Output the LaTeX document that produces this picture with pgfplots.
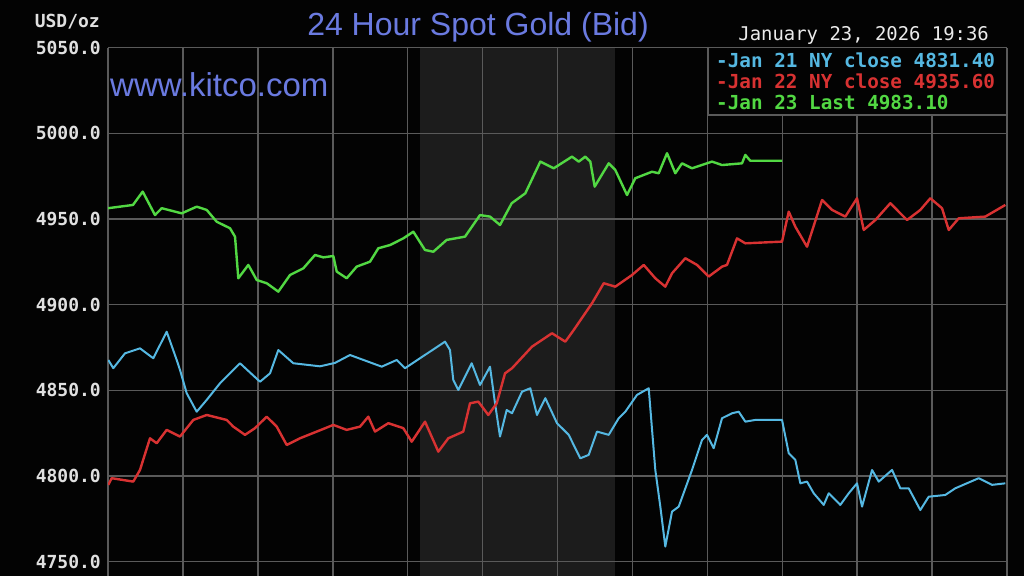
\documentclass[border=0pt]{standalone}
\usepackage{fontspec}
\setmainfont{Liberation Sans}
\newfontfamily\monof{DejaVu Sans Mono}
\usepackage{pgfplots}
\pgfplotsset{compat=1.18}
\definecolor{bgk}{HTML}{030303}
\definecolor{gridc}{HTML}{5A5A5A}
\definecolor{shadec}{HTML}{1C1C1C}
\definecolor{cyanl}{HTML}{55B8E2}
\definecolor{redl}{HTML}{D83232}
\definecolor{greenl}{HTML}{52D843}
\definecolor{titleb}{HTML}{6A7AE0}
\begin{document}
\begin{tikzpicture}
\clip (0pt,0pt) rectangle (1024pt,576pt);
\fill[bgk] (0pt,0pt) rectangle (1024pt,576pt);
\begin{axis}[
  at={(108pt,0pt)}, anchor=south west,
  scale only axis, width=899pt, height=528.3pt,
  xmin=0, xmax=24, ymin=4741.6, ymax=5050,
  xtick={0,2,...,24}, xticklabels={},
  ytick={4750,4800,...,5050},
  major tick length=0pt,
  grid=major,
  major grid style={gridc, line width=1.5pt},
  axis line style={draw=none},
  /pgf/number format/assume math mode=true,
  yticklabel={\pgfmathprintnumber[fixed,fixed zerofill,precision=1,1000 sep={}]{\tick}},
  yticklabel style={font=\monof\bfseries\fontsize{18}{20}\selectfont, text=white!88!black, anchor=east, inner sep=0pt, xshift=-7pt},
  clip=true,
]
\fill[shadec] (axis cs:8.33,4741.6) rectangle (axis cs:13.53,5050);
\draw[gridc, line width=1.5pt] (axis cs:10,4741.6) -- (axis cs:10,5050) (axis cs:12,4741.6) -- (axis cs:12,5050)
  (axis cs:8.33,5000) -- (axis cs:13.53,5000) (axis cs:8.33,4950) -- (axis cs:13.53,4950)
  (axis cs:8.33,4900) -- (axis cs:13.53,4900) (axis cs:8.33,4850) -- (axis cs:13.53,4850)
  (axis cs:8.33,4800) -- (axis cs:13.53,4800) (axis cs:8.33,4750) -- (axis cs:13.53,4750);
% Jan 21 (cyan)
\addplot[cyanl, line width=2pt, line join=round] coordinates {
(0.008,4867.7) (0.141,4862.9) (0.454,4871.6) (0.854,4874.5) (1.209,4868.7) (1.567,4884.2)
(1.834,4867.7) (1.922,4861.9) (2.101,4848.3) (2.368,4837.5) (2.635,4844.4) (2.990,4854.1)
(3.524,4865.8) (4.058,4855.0) (4.325,4859.9) (4.547,4873.5) (4.947,4865.8) (5.66,4864.0)
(6.06,4866.0) (6.461,4870.6) (7.307,4863.8) (7.707,4867.7) (7.929,4862.9) (8.329,4868.7)
(8.997,4878.4) (9.130,4873.5) (9.218,4856.0) (9.352,4850.2) (9.709,4865.8) (9.931,4853.1)
(10.198,4863.8) (10.332,4842.4) (10.465,4823.0) (10.644,4838.5) (10.786,4836.6) (11.053,4849.2)
(11.274,4851.2) (11.453,4835.6) (11.675,4845.4) (11.987,4830.8) (12.299,4824.0) (12.609,4810.3)
(12.833,4812.3) (13.055,4825.9) (13.367,4824.0) (13.634,4833.7) (13.810,4837.5) (14.122,4847.3)
(14.435,4851.2) (14.611,4803.5) (14.745,4782.1) (14.878,4758.8) (15.057,4779.2) (15.236,4782.1)
(15.591,4803.5) (15.858,4821.0) (15.991,4824.0) (16.170,4816.2) (16.392,4833.7) (16.659,4836.6)
(16.838,4837.5) (17.014,4831.7) (17.281,4832.7) (17.994,4832.7) (18.173,4813.3) (18.349,4809.4)
(18.483,4795.7) (18.661,4796.7) (18.840,4789.9) (19.107,4783.1) (19.241,4789.9) (19.550,4783.1)
(19.775,4789.9) (19.996,4795.7) (20.130,4782.1) (20.397,4803.5) (20.576,4796.7) (20.931,4803.5)
(21.152,4792.8) (21.376,4792.8) (21.686,4780.1) (21.910,4787.9) (22.353,4788.9) (22.620,4792.8)
(23.245,4798.7) (23.600,4794.8) (23.955,4795.7)
};
% Jan 22 (red)
\addplot[redl, line width=2.4pt, line join=round] coordinates {
(0.008,4794.8) (0.099,4798.7) (0.675,4796.7) (0.854,4803.5) (1.121,4822.0) (1.300,4819.1)
(1.567,4826.9) (1.922,4823.0) (2.277,4832.7) (2.635,4835.6) (3.169,4832.7) (3.345,4828.8)
(3.657,4824.0) (3.924,4827.9) (4.237,4834.6) (4.504,4828.8) (4.771,4818.1) (5.126,4822.0)
(5.572,4825.9) (6.015,4829.8) (6.372,4826.9) (6.728,4828.8) (6.949,4834.6) (7.128,4825.9)
(7.483,4830.8) (7.884,4827.9) (8.108,4820.0) (8.463,4831.7) (8.818,4814.2) (9.085,4822.0)
(9.485,4825.9) (9.664,4842.4) (9.886,4843.4) (10.153,4835.6) (10.377,4842.4) (10.599,4859.9)
(10.786,4862.9) (11.320,4875.5) (11.853,4883.3) (12.209,4878.4) (12.433,4885.2) (12.921,4900.8)
(13.234,4912.5) (13.543,4910.5) (13.989,4917.3) (14.302,4923.2) (14.611,4915.4) (14.878,4910.5)
(15.057,4918.3) (15.412,4927.1) (15.724,4923.2) (16.037,4916.4) (16.392,4922.2) (16.525,4923.2)
(16.792,4938.7) (17.014,4935.8) (17.994,4936.8) (18.173,4954.3) (18.349,4945.5) (18.661,4933.8)
(19.062,4961.1) (19.329,4955.3) (19.684,4951.4) (19.996,4962.1) (20.175,4943.6) (20.485,4949.4)
(20.885,4959.2) (21.331,4949.4) (21.686,4955.3) (21.953,4962.1) (22.265,4956.3) (22.444,4943.6)
(22.711,4950.4) (23.421,4951.4) (23.955,4958.2)
};
% Jan 23 (green)
\addplot[greenl, line width=2.4pt, line join=round] coordinates {
(0,4956.3) (0.667,4958.2) (0.926,4966.0) (1.255,4952.3) (1.434,4956.3) (1.968,4953.3)
(2.368,4957.2) (2.635,4955.3) (2.902,4948.4) (3.257,4944.6) (3.391,4939.7) (3.479,4915.4)
(3.746,4923.2) (3.970,4914.4) (4.237,4912.5) (4.547,4907.6) (4.859,4917.3) (5.214,4921.2)
(5.526,4929.0) (5.748,4927.6) (6.015,4928.4) (6.106,4919.3) (6.372,4915.4) (6.640,4922.2)
(6.995,4925.1) (7.216,4932.9) (7.529,4934.8) (7.884,4938.7) (8.151,4942.6) (8.463,4931.9)
(8.685,4930.9) (9.042,4937.8) (9.531,4939.7) (9.931,4952.3) (10.198,4951.4) (10.465,4946.5)
(10.777,4959.2) (11.141,4965.0) (11.541,4983.5) (11.899,4979.6) (12.387,4986.4) (12.566,4983.5)
(12.742,4986.4) (12.876,4983.5) (12.993,4968.9) (13.367,4982.5) (13.543,4978.6) (13.856,4964.0)
(14.077,4973.8) (14.523,4977.6) (14.702,4976.7) (14.924,4988.4) (15.145,4976.7) (15.324,4982.5)
(15.591,4979.6) (16.125,4983.5) (16.392,4981.5) (16.926,4982.5) (17.014,4987.4) (17.147,4984.0)
(17.994,4984.0)
};
\end{axis}
% legend box
\fill[bgk] (708.7pt,461pt) rectangle (1007pt,528.3pt);
\draw[gridc, line width=1.5pt] (708.7pt,528.3pt) -- (708.7pt,461pt) -- (1007pt,461pt) -- (1007pt,528.3pt);
\node[anchor=west, inner sep=0pt, text=cyanl, font=\monof\bfseries\fontsize{19.3}{20}\selectfont] at (716pt,516pt) {-Jan 21 NY close 4831.40};
\node[anchor=west, inner sep=0pt, text=redl, font=\monof\bfseries\fontsize{19.3}{20}\selectfont] at (716pt,495pt) {-Jan 22 NY close 4935.60};
\node[anchor=west, inner sep=0pt, text=greenl, font=\monof\bfseries\fontsize{19.3}{20}\selectfont] at (716pt,473pt) {-Jan 23 Last 4983.10};
% texts
\node[anchor=east, inner sep=0pt, text=white!92!black, font=\monof\fontsize{18.9}{20}\selectfont] at (989pt,541pt) {January 23, 2026 19:36};
\node[anchor=east, inner sep=0pt, text=white!88!black, font=\monof\bfseries\fontsize{18}{20}\selectfont] at (100pt,554pt) {USD/oz};
\node[inner sep=0pt, text=titleb, font=\fontsize{32}{35}\selectfont] at (478pt,549pt) {24 Hour Spot Gold (Bid)};
\node[anchor=west, inner sep=0pt, text=titleb, font=\fontsize{33}{36}\selectfont] at (110pt,491pt) {www.kitco.com};
\end{tikzpicture}
\end{document}
